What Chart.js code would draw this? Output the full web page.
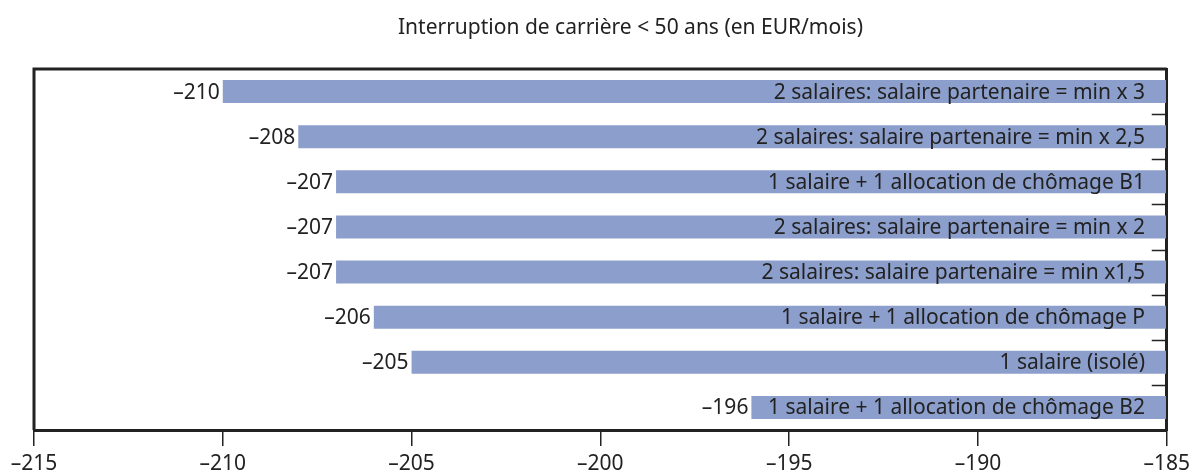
<!DOCTYPE html>
<html>
<head>
<meta charset="utf-8">
<script src="https://cdn.jsdelivr.net/npm/chart.js@4/dist/chart.umd.min.js"></script>
<style>
  html, body { margin: 0; padding: 0; background: #fff; }
  #wrap { position: relative; width: 1195px; height: 472px; }
  #titre { position: absolute; top: 12px; left: 398px; width: 400px; text-align: center;
           font-family: 'Noto Sans', sans-serif; font-size: 21px; color: #222; white-space: nowrap; }
</style>
</head>
<body>
<div id="wrap">
  <div id="titre">Interruption de carrière &lt; 50 ans (en EUR/mois)</div>
  <canvas id="c" width="1195" height="472"></canvas>
</div>
<script>
// Interruption de carrière < 50 ans — écart en EUR/mois
const CATEGORIES = [
  '2 salaires: salaire partenaire = min x 3',
  '2 salaires: salaire partenaire = min x 2,5',
  '1 salaire + 1 allocation de chômage B1',
  '2 salaires: salaire partenaire = min x 2',
  '2 salaires: salaire partenaire = min x1,5',
  '1 salaire + 1 allocation de chômage P',
  '1 salaire (isolé)',
  '1 salaire + 1 allocation de chômage B2'
];
const VALEURS = [-210, -208, -207, -207, -207, -206, -205, -196];
const BASE = -185;
const X_MIN = -215, X_MAX = -185, X_PAS = 5;

const INK = '#222';
const BARRE = '#8c9ecb';
const FONT = "'Noto Sans', sans-serif";

function tiret(v){ return v < 0 ? '\u2013' + Math.abs(v) : String(v); }

// cadre + petits traits à droite entre catégories
const cadre = {
  id: 'cadre',
  afterDatasetsDraw(chart) {
    const { ctx, chartArea: a, scales: { y } } = chart;
    ctx.save();
    ctx.strokeStyle = INK;
    ctx.lineWidth = 3;
    ctx.beginPath();
    ctx.moveTo(a.left, a.bottom); ctx.lineTo(a.left, a.top); ctx.lineTo(a.right, a.top);
    ctx.stroke();
    ctx.lineWidth = 1.5;
    for (let i = 0; i < CATEGORIES.length - 1; i++) {
      const py = Math.round(y.getPixelForValue(i + 0.5)) + 0.5;
      ctx.beginPath(); ctx.moveTo(a.right, py); ctx.lineTo(a.right - 15, py); ctx.stroke();
    }
    ctx.restore();
  }
};

// étiquettes : libellé dans la barre, valeur à gauche
const etiquettes = {
  id: 'etiquettes',
  afterDatasetsDraw(chart) {
    const { ctx } = chart;
    const meta = chart.getDatasetMeta(0);
    ctx.save();
    ctx.font = '21px ' + FONT;
    ctx.fillStyle = INK;
    ctx.textAlign = 'right';
    ctx.textBaseline = 'middle';
    meta.data.forEach((bar, i) => {
      const p = bar.getProps(['x', 'y', 'base'], true);
      ctx.fillText(CATEGORIES[i], p.base - 21, p.y + 1);
      ctx.fillText(tiret(VALEURS[i]), Math.min(p.x, p.base) - 3, p.y + 1);
    });
    ctx.restore();
  }
};

new Chart(document.getElementById('c'), {
  type: 'bar',
  data: {
    labels: CATEGORIES,
    datasets: [{
      data: VALEURS,
      base: BASE,
      backgroundColor: BARRE,
      borderWidth: 0,
      categoryPercentage: 1,
      barPercentage: 0.51
    }]
  },
  options: {
    indexAxis: 'y',
    responsive: false,
    animation: false,
    layout: { padding: { left: 34, top: 69, right: 28, bottom: 0 } },
    plugins: { legend: { display: false }, tooltip: { enabled: false }, title: { display: false } },
    scales: {
      x: {
        type: 'linear', min: X_MIN, max: X_MAX,
        afterFit: s => { s.height = 42; },
        border: { color: INK, width: 3 },
        grid: { drawOnChartArea: false, color: INK, lineWidth: 1.5, tickLength: 16 },
        ticks: { stepSize: X_PAS, color: INK, padding: 5, font: { family: FONT, size: 21 }, callback: v => tiret(v), maxRotation: 0 }
      },
      y: {
        position: 'right',
        afterFit: s => { s.width = 0; },
        border: { color: INK, width: 3 },
        grid: { display: false },
        ticks: { display: false }
      }
    }
  },
  plugins: [cadre, etiquettes]
});
</script>
</body>
</html>
